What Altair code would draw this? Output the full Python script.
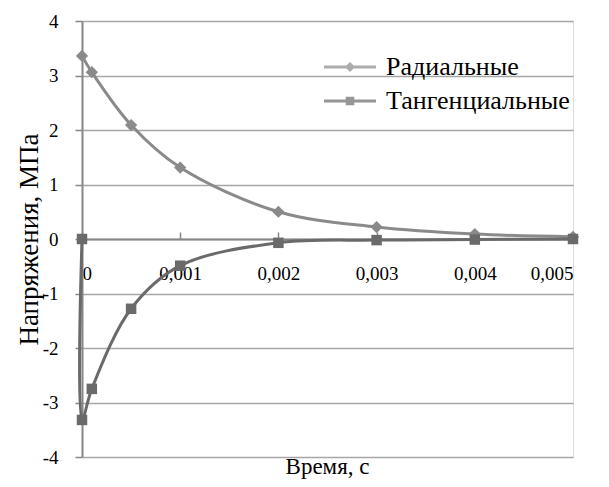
import altair as alt
import pandas as pd

# Data
time_radial = [0.0, 0.0001, 0.0005, 0.001, 0.002, 0.003, 0.004, 0.005]
radial = [3.36, 3.06, 2.09, 1.31, 0.50, 0.22, 0.09, 0.04]

time_tang = [0.0, 0.0, 0.0001, 0.0005, 0.001, 0.002, 0.003, 0.004, 0.005]
tang = [0.0, -3.32, -2.75, -1.28, -0.49, -0.07, -0.02, -0.01, 0.0]

series_names = ["Радиальные", "Тангенциальные"]
x_ticks = [0.0, 0.001, 0.002, 0.003, 0.004, 0.005]
y_ticks = [-4, -3, -2, -1, 0, 1, 2, 3, 4]

C_RAD = "#8a8a8a"
C_TAN = "#6a6a6a"
FONT = "Liberation Serif"

df_r = pd.DataFrame({"t": time_radial, "v": radial, "i": range(len(radial)), "s": series_names[0]})
df_t = pd.DataFrame({"t": time_tang, "v": tang, "i": range(len(tang)), "s": series_names[1]})

W, H = 491, 436

xs = alt.Scale(domain=[0, 0.005], nice=False, zero=False)
ys = alt.Scale(domain=[-4, 4], nice=False)

x_enc = alt.X(
    "t:Q", scale=xs,
    axis=alt.Axis(
        orient="top", offset=-H / 2, values=x_ticks, title=None, grid=False,
        labelPadding=-51,
        labelExpr="datum.value == 0 ? '0' : replace(format(datum.value, '.3f'), '.', ',')",
    ),
)
y_enc = alt.Y(
    "v:Q", scale=ys,
    axis=alt.Axis(
        orient="left", values=y_ticks, title="Напряжения, МПа", grid=True,
        labelExpr="toString(datum.value)",
    ),
)

def series_layers(df, color, shape, size):
    line = alt.Chart(df).mark_line(
        interpolate="catmull-rom", color=color, strokeWidth=3
    ).encode(x=x_enc, y=y_enc, order="i:Q")
    pts = alt.Chart(df).mark_point(
        shape=shape, filled=True, color=color, size=size, opacity=1
    ).encode(x=x_enc, y=y_enc)
    return [line, pts]

layers = series_layers(df_r, C_RAD, "diamond", 150) + series_layers(df_t, C_TAN, "square", 110)

# Legend layer: no marks drawn, only supplies the legend entries
sym_rad = "M-2.6,0H2.6M0,-0.3L0.3,0L0,0.3L-0.3,0Z"
sym_tan = "M-2.6,0H2.6M-0.28,-0.28H0.28V0.28H-0.28Z"
leg = alt.Legend(
    title=None, orient="none", legendX=255, legendY=33, padding=0,
    labelFont=FONT, labelFontSize=26, labelColor="black", labelOffset=23,
    symbolSize=400, symbolStrokeWidth=3, rowPadding=8, labelLimit=400,
)
legend_layer = alt.Chart(df_r).mark_point(filled=True).encode(
    x=x_enc,
    y=y_enc,
    shape=alt.Shape("s:N", scale=alt.Scale(domain=series_names, range=[sym_rad, sym_tan]), legend=leg),
    fill=alt.Fill("s:N", scale=alt.Scale(domain=series_names, range=[C_RAD, C_TAN]), legend=leg),
    stroke=alt.Stroke("s:N", scale=alt.Scale(domain=series_names, range=[C_RAD, C_TAN]), legend=leg),
).transform_filter("datum.s == 'none'")

chart = alt.layer(*layers, legend_layer).properties(
    width=W, height=H,
    title=alt.TitleParams("Время, с", orient="bottom", anchor="middle", font=FONT,
                          fontSize=23, fontWeight="normal", color="black", offset=-11),
    autosize=alt.AutoSizeParams(type="none"),
    padding={"left": 74, "top": 13, "right": 28, "bottom": 22},
).configure_view(
    stroke=None
).configure(
    background="white", font=FONT
).configure_axis(
    domainColor="#868686", domainWidth=2, tickColor="#868686", tickSize=7, tickWidth=1.5,
    labelFont=FONT, labelFontSize=19, labelColor="black",
    titleFont=FONT, titleFontWeight="normal", titleColor="black",
    gridColor="#a6a6a6", gridWidth=1.5,
).configure_axisLeft(
    labelPadding=17, titleFontSize=27, titlePadding=-1,
)

chart.save("out.html", embed_options={"renderer": "svg", "actions": False})
